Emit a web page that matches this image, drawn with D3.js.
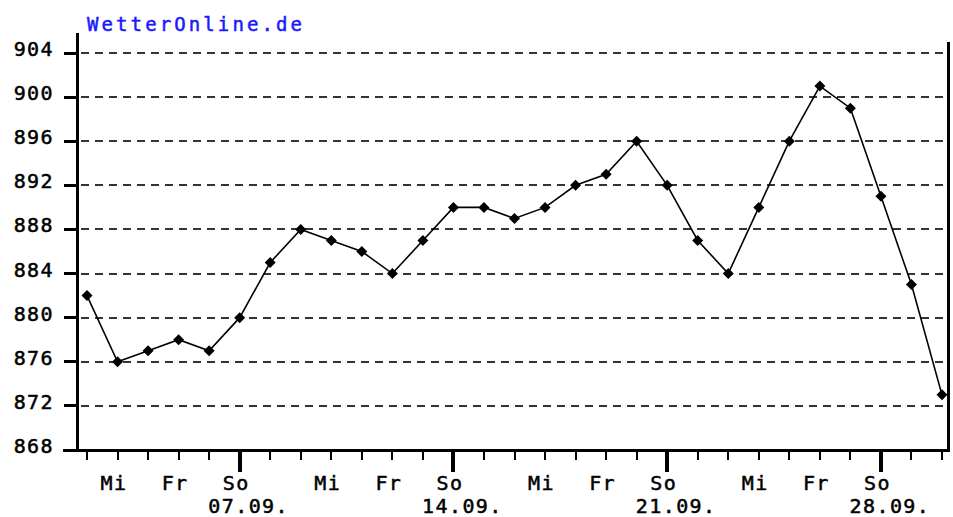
<!DOCTYPE html>
<html>
<head>
<meta charset="utf-8">
<script src="https://cdn.jsdelivr.net/npm/d3@7"></script>
<style>
  body { margin: 0; background: #fff; }
  svg { display: block; }
  text { font-family: "DejaVu Sans Mono", monospace; fill: #000; stroke: #000; stroke-width: 0.5px; }
</style>
</head>
<body>
<div class="main"></div>
<script>
// daily values, 02.09. to 30.09.
const firstDay = "2025-09-02";
const values = [882, 876, 877, 878, 877, 880, 885, 888, 887, 886, 884, 887, 890, 890, 889,
                890, 892, 893, 896, 892, 887, 884, 890, 896, 901, 899, 891, 883, 873];
const yTicks = [868, 872, 876, 880, 884, 888, 892, 896, 900, 904];
const dayNames = {3: "Mi", 5: "Fr", 0: "So"};
const title = "WetterOnline.de";

const width = 953, height = 517;
const parseDay = d3.timeParse("%Y-%m-%d");
const start = parseDay(firstDay);
const data = values.map((v, i) => ({ date: d3.timeDay.offset(start, i), value: v }));

const x = d3.scaleTime()
    .domain(d3.extent(data, d => d.date))
    .range([87, 942]);

const y = d3.scaleLinear()
    .domain([868, 904])
    .range([450, 53]);

const svg = d3.select(".main").append("svg")
    .attr("width", width)
    .attr("height", height);

// title
svg.append("text")
    .attr("x", 87)
    .attr("y", 31)
    .style("font-size", "19px")
    .style("letter-spacing", "3.1px")
    .style("fill", "#1a1aff")
    .style("stroke", "#1a1aff")
    .text(title);

// dashed grid
svg.append("g")
    .selectAll("line")
    .data(yTicks.filter(t => t > 868))
    .enter().append("line")
    .attr("x1", 81)
    .attr("x2", 946)
    .attr("y1", d => y(d))
    .attr("y2", d => y(d))
    .attr("stroke", "#333")
    .attr("stroke-width", 2)
    .attr("stroke-dasharray", "8,6")
    .attr("shape-rendering", "crispEdges");

// y axis
svg.append("line")
    .attr("x1", 77.5).attr("x2", 77.5)
    .attr("y1", 33).attr("y2", 452)
    .attr("stroke", "#000").attr("stroke-width", 3)
    .attr("shape-rendering", "crispEdges");

const yAxis = svg.append("g");
yAxis.selectAll("line")
    .data(yTicks)
    .enter().append("line")
    .attr("x1", 64).attr("x2", 78)
    .attr("y1", d => y(d)).attr("y2", d => y(d))
    .attr("stroke", "#000").attr("stroke-width", 3)
    .attr("shape-rendering", "crispEdges");

yAxis.selectAll("text")
    .data(yTicks)
    .enter().append("text")
    .attr("x", 54)
    .attr("y", d => y(d) + 3)
    .attr("text-anchor", "end")
    .style("font-size", "20px")
    .style("letter-spacing", "1.4px")
    .text(d => d);

// right border
svg.append("line")
    .attr("x1", 948).attr("x2", 948)
    .attr("y1", 42).attr("y2", 452)
    .attr("stroke", "#000").attr("stroke-width", 3)
    .attr("shape-rendering", "crispEdges");

// x axis
svg.append("line")
    .attr("x1", 63).attr("x2", 950)
    .attr("y1", 450).attr("y2", 450)
    .attr("stroke", "#000").attr("stroke-width", 3)
    .attr("shape-rendering", "crispEdges");

const days = x.ticks(d3.timeDay.every(1));
const xAxis = svg.append("g");

xAxis.selectAll("line")
    .data(days)
    .enter().append("line")
    .attr("x1", d => x(d)).attr("x2", d => x(d))
    .attr("y1", 451)
    .attr("y2", d => d.getDay() === 0 ? 472 : 460)
    .attr("stroke", "#000")
    .attr("stroke-width", d => d.getDay() === 0 ? 4 : 2)
    .attr("shape-rendering", "crispEdges");

xAxis.selectAll("text.day")
    .data(days.filter(d => dayNames[d.getDay()]))
    .enter().append("text")
    .attr("class", "day")
    .attr("x", d => x(d) - 3.5)
    .attr("y", 490)
    .attr("text-anchor", "middle")
    .style("font-size", "20px")
    .style("letter-spacing", "1.4px")
    .text(d => dayNames[d.getDay()]);

const fmt = d3.timeFormat("%d.%m.");
xAxis.selectAll("text.date")
    .data(days.filter(d => d.getDay() === 0))
    .enter().append("text")
    .attr("class", "date")
    .attr("x", d => x(d) + 9)
    .attr("y", 513)
    .attr("text-anchor", "middle")
    .style("font-size", "20px")
    .style("letter-spacing", "1.4px")
    .text(d => fmt(d));

// line + markers
const line = d3.line()
    .x(d => x(d.date))
    .y(d => y(d.value));

svg.append("path")
    .datum(data)
    .attr("d", line)
    .attr("fill", "none")
    .attr("stroke", "#000")
    .attr("stroke-width", 1.6);

svg.append("g")
    .selectAll("path")
    .data(data)
    .enter().append("path")
    .attr("transform", d => "translate(" + x(d.date) + "," + y(d.value) + ")")
    .attr("d", "M0,-5.5L5.5,0L0,5.5L-5.5,0Z")
    .attr("fill", "#000");
</script>
</body>
</html>
